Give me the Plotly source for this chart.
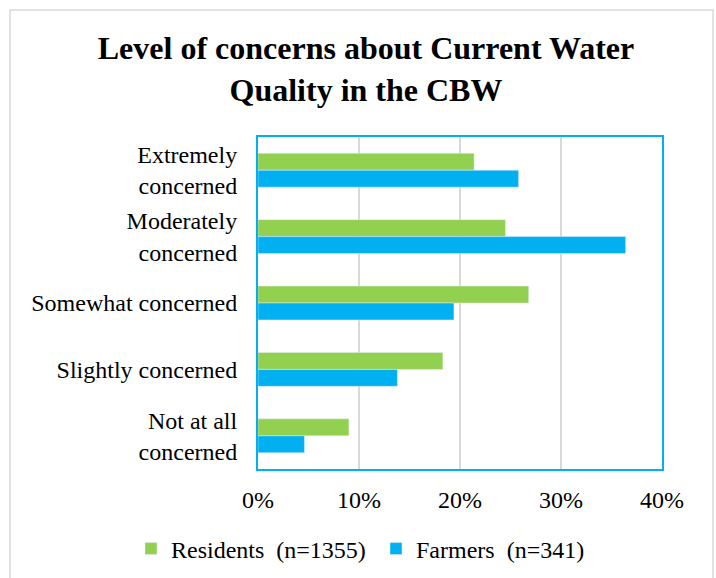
import plotly.graph_objects as go

categories = ["Extremely<br>concerned", "Moderately<br>concerned", "Somewhat concerned",
              "Slightly concerned", "Not at all<br>concerned"]
residents = [0.214, 0.245, 0.268, 0.183, 0.090]
farmers = [0.258, 0.364, 0.194, 0.138, 0.046]
tick_vals = [0, 0.1, 0.2, 0.3, 0.4]
tick_text = ["0%", "10%", "20%", "30%", "40%"]

FONT = "Liberation Serif"

fig = go.Figure()
fig.add_trace(go.Bar(y=categories, x=residents, orientation="h",
                     name="Residents\u00a0\u00a0(n=1355)", marker_color="#92D050"))
fig.add_trace(go.Bar(y=categories, x=farmers, orientation="h",
                     name="Farmers\u00a0\u00a0(n=341)", marker_color="#00B0F0"))

L, R, T, B = 258, 54, 137, 109
W, H = 716, 578
pw, ph = W - L - R, H - T - B

def px_x(x):
    return (x - L) / pw

def px_y(y):
    return (H - B - y) / ph

fig.update_layout(
    width=W, height=H,
    margin=dict(l=L, r=R, t=T, b=B, pad=0, autoexpand=False),
    paper_bgcolor="white", plot_bgcolor="white",
    barmode="group", bargap=0.49, bargroupgap=0,
    font=dict(family=FONT, size=24, color="#000000"),
    title=dict(text="<b>Level of concerns about Current Water<br>Quality in the CBW</b>",
               x=366 / W, xanchor="center", y=1 - 59 / H, yanchor="middle",
               font=dict(family=FONT, size=32, color="#000000")),
    xaxis=dict(range=[0, 0.4], tickvals=tick_vals, ticktext=tick_text,
               showgrid=True, gridcolor="#D9D9D9", gridwidth=1.5,
               showline=True, linecolor="#00B0F0", linewidth=2, mirror=True,
               zeroline=False, ticks="outside", ticklen=8, tickcolor="rgba(0,0,0,0)",
               tickfont=dict(family=FONT, size=24), fixedrange=True),
    yaxis=dict(autorange="reversed", showgrid=False,
               showline=True, linecolor="#00B0F0", linewidth=2, mirror=True,
               ticks="outside", ticklen=14, tickcolor="rgba(0,0,0,0)",
               tickfont=dict(family=FONT, size=24), fixedrange=True),
    legend=dict(orientation="h", xref="paper", yref="paper",
                x=px_x(131), xanchor="left", y=px_y(549), yanchor="middle",
                font=dict(family=FONT, size=24), itemwidth=30, traceorder="normal",
                entrywidth=200, entrywidthmode="pixels",
                bgcolor="rgba(0,0,0,0)"),
    shapes=[dict(type="rect", xref="paper", yref="paper",
                 x0=px_x(10), x1=px_x(713), y0=px_y(582), y1=px_y(10),
                 line=dict(color="#D9D9D9", width=1.5), fillcolor="rgba(0,0,0,0)", layer="below")],
)

fig.write_html("out.html", config={"displayModeBar": False},
               post_script="document.body.style.margin='0px';")
